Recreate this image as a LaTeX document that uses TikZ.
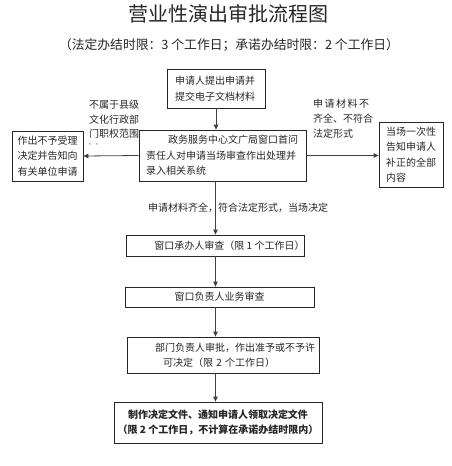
\documentclass[tikz,border=0pt]{standalone}
\usepackage{fontspec}
\setmainfont{Noto Sans CJK SC}
\usetikzlibrary{arrows.meta}

\begin{document}
\begin{tikzpicture}[x=1pt,y=-1pt]
\tikzset{
  flowbox/.style={draw=black!85,line width=0.8pt,inner ysep=0pt,align=left,text=black!85,
    font=\fontsize{10}{15.5}\selectfont},
  sidenote/.style={inner sep=0pt,align=left,text=black!85,font=\fontsize{10}{14.5}\selectfont},
  directed/.style={-{Triangle[length=5pt,width=4.5pt]},line width=0.8pt,draw=black!75}
}
\useasboundingbox (0,0) rectangle (451,466);
\node[text=black!85,font=\fontsize{20}{24}\selectfont] (n_title) at (228,14) {营业性演出审批流程图};
\node[text=black!85,font=\fontsize{12.8}{14}\selectfont] (n_limits) at (229,45) {（法定办结时限：3 个工作日；承诺办结时限：2 个工作日）};
\node[flowbox,inner xsep=8pt,text width=82pt,minimum height=39pt] (n_apply) at (216,88.5)
  {申请人提出申请并\\提交电子文档材料};
\node[flowbox,inner xsep=7pt,text width=153pt,minimum height=51pt] (n_center) at (222.5,155.5)
  {\hspace*{22pt}政务服务中心文广局窗口首问\\责任人对申请当场审查作出处理并\\录入相关系统};
\node[flowbox,inner xsep=5.5pt,text width=60pt,minimum height=50pt] (n_reject) at (47.5,156)
  {作出不予受理\\决定并告知向\\有关单位申请};
\node[flowbox,inner xsep=7pt,text width=50pt,minimum height=65pt] (n_notify) at (411,154.5)
  {当场一次性\\告知申请人\\补正的全部\\内容};
\node[flowbox,inner xsep=0pt,minimum width=177pt,minimum height=21pt,align=center] (n_first) at (215.5,245.5)
  {\hspace*{28pt}窗口承办人审查（限 1 个工作日）};
\node[flowbox,inner xsep=0pt,minimum width=189pt,minimum height=20pt,align=center] (n_lead) at (219.5,297)
  {窗口负责人业务审查};
\node[flowbox,inner xsep=2pt,text width=188pt,minimum height=36pt] (n_approve) at (223,355)
  {\hspace*{26pt}部门负责人审批，作出准予或不予许\\\hspace*{34pt}可决定（限 2 个工作日）};
\node[flowbox,inner xsep=0pt,minimum width=208pt,minimum height=41pt,align=center,
  font=\fontsize{10}{15.5}\selectfont\bfseries] (n_issue) at (218,422.5)
  {制作决定文件、通知申请人领取决定文件\\（限 2 个工作日，不计算在承诺办结时限内）};
\node[sidenote,anchor=north west] (n_outscope) at (89,100)
  {不属于县级\\文化行政部\\门职权范围\\[-3pt]{\fontsize{7}{7}\selectfont ’’}};
\node[sidenote,anchor=north west,font=\fontsize{10}{15}\selectfont] (n_incomplete) at (313,99)
  {申\hspace{1.5pt}请\hspace{1.5pt}材\hspace{1.5pt}料\hspace{1.5pt}不\\齐全、不符合\\法定形式};
\node[sidenote] (n_complete) at (238,208) {申请材料齐全，符合法定形式，当场决定};
\draw[directed] (n_apply.south) -- (n_apply.south |- n_center.north);
\draw[directed] (n_center.west) -- (n_reject.east);
\draw[directed] (n_center.east) -- (n_center.east -| n_notify.west);
\draw[directed] (n_first.north |- n_center.south) -- (n_first.north);
\draw[directed] (n_first.south) -- (n_first.south |- n_lead.north);
\draw[directed] (n_first.south |- n_lead.south) -- (n_first.south |- n_approve.north);
\draw[directed] (n_first.south |- n_approve.south) -- (n_first.south |- n_issue.north);
\end{tikzpicture}
\end{document}
